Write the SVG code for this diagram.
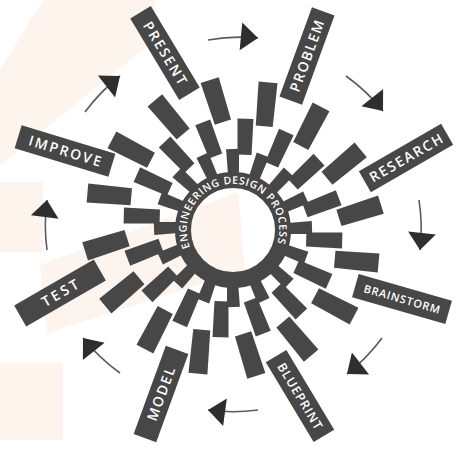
<svg xmlns="http://www.w3.org/2000/svg" width="466" height="449" viewBox="0 0 466 449">
<style>
.bg{fill:#fdf5ed}
.d{fill:#474747}
.lbl{font-family:"Open Sans","Liberation Sans",sans-serif;font-weight:600;font-size:14px;fill:#fff;text-anchor:middle}
.ring{font-family:"Open Sans","Liberation Sans",sans-serif;font-weight:600;font-size:10.5px;fill:#fff}
.arr{fill:none;stroke:#5a5a5a;stroke-width:1.6}
</style>
<defs>
<path id="s" d="M-12,-5.5L12,-6.5L12,6.5L-12,5.5Z"/>
<path id="m" d="M-18,-7L18,-8L18,8L-18,7Z"/>
<path id="o" d="M-22,-8.5L22,-9.5L22,9.5L-22,8.5Z"/>
<marker id="ah" markerWidth="20" markerHeight="30" viewBox="0 -14 18 28" refX="16" refY="0" orient="auto" markerUnits="userSpaceOnUse"><path d="M0,-13L16,0L0,13Z" fill="#2e2e2e"/></marker>
<path id="ringpath" d="M-42.93,17.34A46.3,46.3 0 1 1 44.03,14.31"/>
</defs>
<rect width="466" height="449" fill="#fff"/>
<g id="background">
<polygon class="bg" points="43,0 155,0 155,40 0,165 0,70"/>
<polygon class="bg" points="40,265 238,192 245,270 47,333"/>
<rect class="bg" x="0" y="182" width="43" height="70"/>
<rect class="bg" x="0" y="363" width="63" height="77"/>
</g>
<g id="rays" class="d" transform="translate(233,228)">
<use href="#s" transform="rotate(-90) translate(67) rotate(-2)"/>
<use href="#m" transform="rotate(-82.5) translate(92) rotate(-6)"/>
<use href="#o" transform="rotate(-75) translate(128) rotate(-10)"/>
<use href="#s" transform="rotate(-67.5) translate(67) rotate(-2)"/>
<use href="#m" transform="rotate(-60) translate(92) rotate(-6)"/>
<use href="#o" transform="rotate(-52.5) translate(128) rotate(-10)"/>
<use href="#s" transform="rotate(-45) translate(67) rotate(-2)"/>
<use href="#m" transform="rotate(-37.5) translate(92) rotate(-6)"/>
<use href="#o" transform="rotate(-30) translate(128) rotate(-10)"/>
<use href="#s" transform="rotate(-22.5) translate(67) rotate(-2)"/>
<use href="#m" transform="rotate(-15) translate(92) rotate(-6)"/>
<use href="#o" transform="rotate(-7.5) translate(128) rotate(-10)"/>
<use href="#s" transform="rotate(0) translate(67) rotate(-2)"/>
<use href="#m" transform="rotate(7.5) translate(92) rotate(-6)"/>
<use href="#o" transform="rotate(15) translate(128) rotate(-10)"/>
<use href="#s" transform="rotate(22.5) translate(67) rotate(-2)"/>
<use href="#m" transform="rotate(30) translate(92) rotate(-6)"/>
<use href="#o" transform="rotate(37.5) translate(128) rotate(-10)"/>
<use href="#s" transform="rotate(45) translate(67) rotate(-2)"/>
<use href="#m" transform="rotate(52.5) translate(92) rotate(-6)"/>
<use href="#o" transform="rotate(60) translate(128) rotate(-10)"/>
<use href="#s" transform="rotate(67.5) translate(67) rotate(-2)"/>
<use href="#m" transform="rotate(75) translate(92) rotate(-6)"/>
<use href="#o" transform="rotate(82.5) translate(128) rotate(-10)"/>
<use href="#s" transform="rotate(90) translate(67) rotate(-2)"/>
<use href="#m" transform="rotate(97.5) translate(92) rotate(-6)"/>
<use href="#o" transform="rotate(105) translate(128) rotate(-10)"/>
<use href="#s" transform="rotate(112.5) translate(67) rotate(-2)"/>
<use href="#m" transform="rotate(120) translate(92) rotate(-6)"/>
<use href="#o" transform="rotate(127.5) translate(128) rotate(-10)"/>
<use href="#s" transform="rotate(135) translate(67) rotate(-2)"/>
<use href="#m" transform="rotate(142.5) translate(92) rotate(-6)"/>
<use href="#o" transform="rotate(150) translate(128) rotate(-10)"/>
<use href="#s" transform="rotate(157.5) translate(67) rotate(-2)"/>
<use href="#m" transform="rotate(165) translate(92) rotate(-6)"/>
<use href="#o" transform="rotate(172.5) translate(128) rotate(-10)"/>
<use href="#s" transform="rotate(180) translate(67) rotate(-2)"/>
<use href="#m" transform="rotate(187.5) translate(92) rotate(-6)"/>
<use href="#o" transform="rotate(195) translate(128) rotate(-10)"/>
<use href="#s" transform="rotate(202.5) translate(67) rotate(-2)"/>
<use href="#m" transform="rotate(210) translate(92) rotate(-6)"/>
<use href="#o" transform="rotate(217.5) translate(128) rotate(-10)"/>
<use href="#s" transform="rotate(225) translate(67) rotate(-2)"/>
<use href="#m" transform="rotate(232.5) translate(92) rotate(-6)"/>
<use href="#o" transform="rotate(240) translate(128) rotate(-10)"/>
<use href="#s" transform="rotate(247.5) translate(67) rotate(-2)"/>
<use href="#m" transform="rotate(255) translate(92) rotate(-6)"/>
<use href="#o" transform="rotate(262.5) translate(128) rotate(-10)"/>
</g>
<g id="hub" transform="translate(233,230)">
<circle r="50" fill="none" stroke="#474747" stroke-width="16"/>
<text class="ring"><textPath href="#ringpath" textLength="176" lengthAdjust="spacing">ENGINEERING DESIGN PROCESS</textPath></text>
</g>
<g id="present" transform="translate(165,53) rotate(-121)"><rect class="d" x="-47.5" y="-12" width="95" height="24"/><text class="lbl" transform="rotate(180)" dy="5" textLength="71">PRESENT</text></g>
<g id="problem" transform="translate(307,56) rotate(-70)"><rect class="d" x="-47.5" y="-12" width="95" height="24"/><text class="lbl" dy="5" textLength="75">PROBLEM</text></g>
<g id="research" transform="translate(406,158) rotate(-30)"><rect class="d" x="-47.5" y="-12" width="95" height="24"/><text class="lbl" dy="5" textLength="82">RESEARCH</text></g>
<g id="brainstorm" transform="translate(402,299) rotate(16)"><rect class="d" x="-48.5" y="-12" width="97" height="24"/><text class="lbl" style="font-size:11px" dy="4" textLength="79">BRAINSTORM</text></g>
<g id="blueprint" transform="translate(300,396) rotate(59)"><rect class="d" x="-46.5" y="-12" width="93" height="24"/><text class="lbl" style="font-size:12.5px" dy="4.5" textLength="75">BLUEPRINT</text></g>
<g id="model" transform="translate(161,394) rotate(110)"><rect class="d" x="-47" y="-12" width="94" height="24"/><text class="lbl" transform="rotate(180)" dy="5" textLength="56">MODEL</text></g>
<g id="test" transform="translate(60,293) rotate(150)"><rect class="d" x="-46" y="-12" width="92" height="24"/><text class="lbl" transform="rotate(180)" dy="5" textLength="40">TEST</text></g>
<g id="improve" transform="translate(65,151) rotate(-163)"><rect class="d" x="-49" y="-12" width="98" height="24"/><text class="lbl" transform="rotate(180)" dy="5" textLength="75">IMPROVE</text></g>
<g id="connectors" class="arr" marker-end="url(#ah)">
<path d="M208,40A187,187 0 0 1 258,38"/>
<path d="M346,76A187,187 0 0 1 383,111"/>
<path d="M419,200A187,187 0 0 1 420,250"/>
<path d="M382,338A187,187 0 0 1 347,374"/>
<path d="M258,410A187,187 0 0 1 208,410"/>
<path d="M120,373A187,187 0 0 1 83,338"/>
<path d="M47,250A187,187 0 0 1 47,200"/>
<path d="M85,112A187,187 0 0 1 120,76"/>
</g>
</svg>
